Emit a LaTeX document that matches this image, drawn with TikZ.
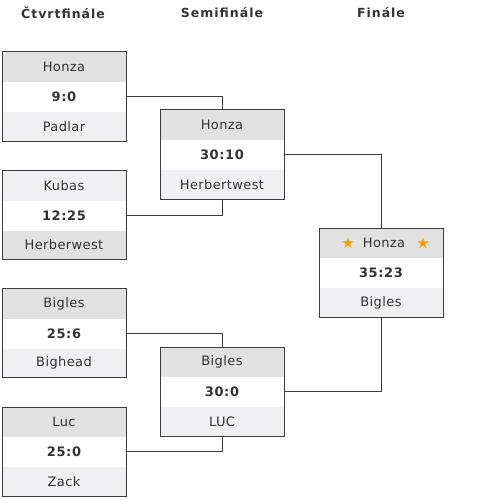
\documentclass[tikz,border=0pt]{standalone}
\usepackage{fontspec}
\setmainfont{DejaVu Sans}
\definecolor{hdr}{HTML}{E1E1E1}
\definecolor{ftr}{HTML}{F0F0F2}
\definecolor{edge}{HTML}{3C3C3C}
\definecolor{ink}{HTML}{333333}
\definecolor{starc}{HTML}{F5A000}
\tikzset{
  cell/.style={anchor=north west, minimum width=124pt, inner sep=0pt, outer sep=0pt, text=ink, font=\fontsize{13}{15}\selectfont\addfontfeatures{LetterSpace=3}},
  topcell/.style={cell, minimum height=30pt},
  midcell/.style={cell, fill=white, minimum height=30pt, font=\fontsize{13}{15}\selectfont\bfseries\addfontfeatures{LetterSpace=5}},
  botcell/.style={cell, minimum height=29pt},
  frame/.style={draw=edge, line width=1pt, anchor=north west, minimum width=124pt, minimum height=89pt, inner sep=0pt, outer sep=0pt},
  title/.style={text=ink, font=\fontsize{12.5}{14}\selectfont\bfseries\addfontfeatures{LetterSpace=8}},
  link/.style={draw=edge, line width=0.9pt},
  starnode/.style={text=starc, font=\fontsize{15}{16}\selectfont, inner sep=0pt}
}
% name, x, y, top, score, bottom, top fill, bottom fill
\newcommand\matchbox[8]{%
  \node[topcell, fill=#7] (#1-t) at (#2,#3) {#4};
  \node[midcell] (#1-m) at (#2,#3+30) {#5};
  \node[botcell, fill=#8] (#1-b) at (#2,#3+60) {#6};
  \node[frame] (#1) at (#2,#3) {};
}
\begin{document}
\begin{tikzpicture}[x=1pt,y=-1pt]
\useasboundingbox (0,0) rectangle (500,500);
\node[title] (h1) at (63,13) {Čtvrtfinále};
\node[title] (h2) at (222,13) {Semifinále};
\node[title] (h3) at (381,13) {Finále};
\matchbox{q1}{2}{52}{Honza}{9:0}{Padlar}{hdr}{ftr}
\matchbox{q2}{2}{170.5}{Kubas}{12:25}{Herberwest}{ftr}{hdr}
\matchbox{q3}{2}{288.5}{Bigles}{25:6}{Bighead}{hdr}{ftr}
\matchbox{q4}{2}{407}{Luc}{25:0}{Zack}{hdr}{ftr}
\matchbox{s1}{160}{110}{Honza}{30:10}{Herbertwest}{hdr}{ftr}
\matchbox{s2}{160}{347}{Bigles}{30:0}{LUC}{hdr}{ftr}
\matchbox{f}{319}{228}{\hspace*{6pt}Honza}{35:23}{Bigles}{hdr}{ftr}
\node[starnode] (st1) at (348,243.5) {★};
\node[starnode] (st2) at (423,243.5) {★};
\draw[link] (q1.east) -| (s1.north);
\draw[link] (q2.east) -| (s1.south);
\draw[link] (q3.east) -| (s2.north);
\draw[link] (q4.east) -| (s2.south);
\draw[link] (s1.east) -| (f.north);
\draw[link] (s2.east) -| (f.south);
\end{tikzpicture}
\end{document}
